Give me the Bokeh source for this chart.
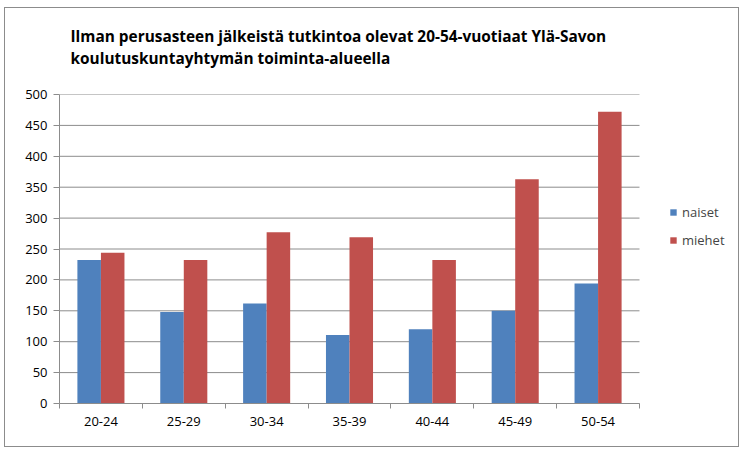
from bokeh.plotting import figure
from bokeh.models import FixedTicker, Legend, LegendItem, Range1d
from bokeh.embed import file_html
from bokeh.resources import INLINE

title_lines = ["Ilman perusasteen jälkeistä tutkintoa olevat 20-54-vuotiaat  Ylä-Savon",
               "koulutuskuntayhtymän toiminta-alueella"]
categories = ["20-24", "25-29", "30-34", "35-39", "40-44", "45-49", "50-54"]
naiset = [232, 148, 162, 111, 120, 150, 194]
miehet = [244, 232, 277, 269, 232, 363, 472]
y_ticks = [0, 50, 100, 150, 200, 250, 300, 350, 400, 450, 500]

BLUE = "#4F81BD"
RED = "#C0504D"
GRID = "#8c8c8c"
FONT = "Open Sans"

n = len(categories)
X_END = 8.219
p = figure(width=735, height=440, output_backend="svg", toolbar_location=None,
           x_range=Range1d(0, X_END), y_range=Range1d(0, 500),
           min_border_left=54, min_border_right=0, min_border_top=86, min_border_bottom=45)
p.margin = (7, 0, 0, 4)
p.styles = {"border": "1px solid #8c8c8c"}
p.outline_line_color = None
p.background_fill_color = "white"
p.border_fill_color = "white"

# gridlines bounded to the category area
p.xgrid.visible = False
p.ygrid.visible = False
p.segment(x0=[0] * len(y_ticks), x1=[n] * len(y_ticks), y0=y_ticks, y1=y_ticks,
          line_color=GRID, line_width=1)

bw = 0.284
centers = [i + 0.5 for i in range(n)]
r1 = p.vbar(x=[c - bw / 2 for c in centers], top=naiset, width=bw, fill_color=BLUE, line_color=None)
r2 = p.vbar(x=[c + bw / 2 for c in centers], top=miehet, width=bw, fill_color=RED, line_color=None)

# axes
xa = p.xaxis[0]
xa.bounds = (0, n)
xa.ticker = FixedTicker(ticks=centers, minor_ticks=list(range(n + 1)))
xa.major_label_overrides = {c: lab for c, lab in zip(centers, categories)}
xa.major_tick_out = 0
xa.major_tick_in = 0
xa.minor_tick_out = 5
xa.minor_tick_in = 0
xa.minor_tick_line_color = GRID
xa.axis_line_color = GRID
xa.major_label_standoff = 8
xa.major_label_text_font = FONT
xa.major_label_text_font_size = "13px"
xa.major_label_text_color = "black"

ya = p.yaxis[0]
ya.ticker = FixedTicker(ticks=y_ticks)
ya.major_tick_out = 6
ya.major_tick_in = 0
ya.minor_tick_out = 0
ya.minor_tick_in = 0
ya.major_tick_line_color = GRID
ya.axis_line_color = GRID
ya.major_label_standoff = 6
ya.major_label_text_font = FONT
ya.major_label_text_font_size = "13px"
ya.major_label_text_color = "black"

legend = Legend(items=[LegendItem(label="naiset", renderers=[r1]),
                       LegendItem(label="miehet", renderers=[r2])],
                location=(610, 154), glyph_width=8, glyph_height=8,
                label_text_font=FONT, label_text_font_size="13px",
                border_line_color=None, background_fill_alpha=0,
                padding=0, margin=0, spacing=10, label_standoff=5)
p.add_layout(legend)

# a blank last line lifts the two title lines by one line height
p.title.text = "\n".join(title_lines + [" "])
p.title.align = "left"
p.title.offset = 11
p.title.text_font = FONT
p.title.text_font_style = "bold"
p.title.text_font_size = "15.4px"
p.title.text_line_height = 1.05
p.title.text_color = "black"
p.title.standoff = 7

open("out.html", "w").write(file_html(p, INLINE))
